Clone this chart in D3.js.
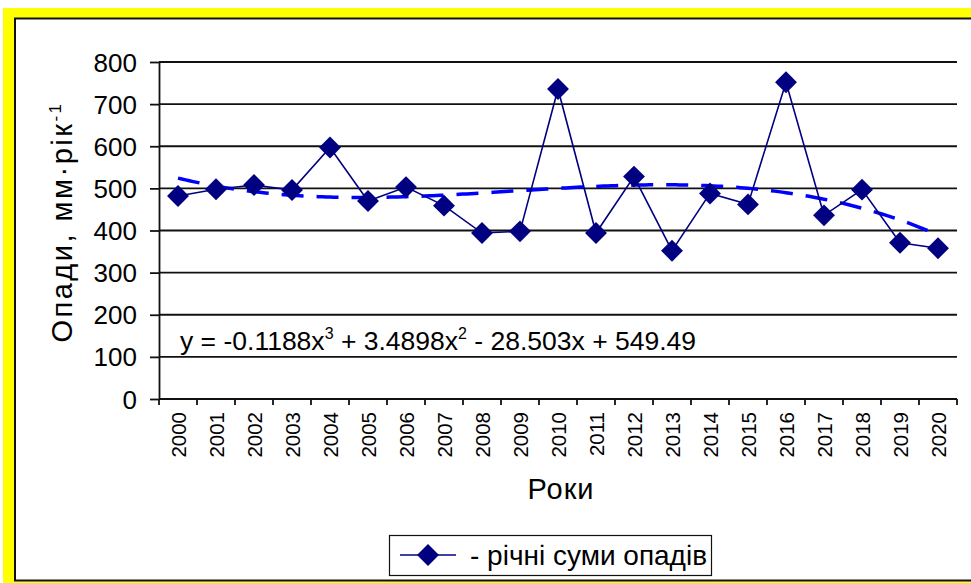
<!DOCTYPE html>
<html>
<head>
<meta charset="utf-8">
<script src="https://cdn.jsdelivr.net/npm/d3@7/dist/d3.min.js"></script>
<style>
  html, body { margin: 0; padding: 0; background: #fff; }
  svg { display: block; font-family: "Liberation Sans", Arial, sans-serif; }
</style>
</head>
<body>
<svg id="chart" width="971" height="583"></svg>
<script>
// Annual precipitation totals, mm per year
const years = ["2000","2001","2002","2003","2004","2005","2006","2007","2008","2009","2010",
               "2011","2012","2013","2014","2015","2016","2017","2018","2019","2020"];
const precipitation = [482, 498, 508, 496, 597, 470, 503, 459, 394, 398, 736,
                       394, 528, 352, 488, 462, 752, 436, 497, 371, 358];
// Cubic trend coefficients (x = 1 … 21): a3, a2, a1, a0
const trendCoefficients = [-0.1188, 3.4898, -28.503, 549.49];
const yTicks = [0, 100, 200, 300, 400, 500, 600, 700, 800];

const svg = d3.select("#chart");

// Yellow frame and white panel
svg.append("rect").attr("x", 3).attr("y", 8).attr("width", 980).attr("height", 590).attr("fill", "#ffff00");
svg.append("rect").attr("x", 15).attr("y", 18.5).attr("width", 980).attr("height", 562)
  .attr("fill", "#fff").attr("stroke", "#111").attr("stroke-width", 2);

const plot = { left: 159, right: 957, top: 62, bottom: 399 };

const x = d3.scaleBand().domain(years).range([plot.left, plot.right]).paddingInner(0).paddingOuter(0);
const y = d3.scaleLinear().domain([0, 800]).range([plot.bottom, plot.top]);
const cx = d => x(d) + x.bandwidth() / 2;

// Horizontal gridlines
svg.append("g").selectAll("line").data(yTicks.filter(v => v > 0)).join("line")
  .attr("x1", plot.left).attr("x2", plot.right)
  .attr("y1", d => y(d)).attr("y2", d => y(d))
  .attr("stroke", "#111").attr("stroke-width", 1.8);

// Y axis
const yAxis = svg.append("g").attr("transform", `translate(${plot.left},0)`)
  .call(d3.axisLeft(y).tickValues(yTicks).tickSize(9).tickPadding(13).tickSizeOuter(0));
yAxis.select(".domain").attr("stroke", "#111").attr("stroke-width", 1.8);
yAxis.selectAll(".tick line").attr("stroke", "#111").attr("stroke-width", 1.8);
yAxis.selectAll("text").attr("font-size", 26).attr("fill", "#000").attr("dy", "0.35em")
  .attr("font-family", "Liberation Sans, Arial, sans-serif");

// X axis with tick marks at category boundaries
const xAxisG = svg.append("g").attr("transform", `translate(0,${plot.bottom})`);
xAxisG.append("line").attr("x1", plot.left).attr("x2", plot.right)
  .attr("stroke", "#111").attr("stroke-width", 1.8);
const boundaries = years.map(d => x(d)).concat([plot.right]);
xAxisG.selectAll("line.tk").data(boundaries).join("line").attr("class", "tk")
  .attr("x1", d => d).attr("x2", d => d).attr("y1", 0).attr("y2", 6)
  .attr("stroke", "#111").attr("stroke-width", 1.8);
xAxisG.selectAll("text").data(years).join("text")
  .attr("transform", d => `translate(${cx(d) + 7.5},13) rotate(-90)`)
  .attr("text-anchor", "end").attr("font-size", 20.5).attr("fill", "#000")
  .text(d => d);

// Trend line from the cubic equation
const trendFn = t => trendCoefficients[0] * t ** 3 + trendCoefficients[1] * t ** 2 +
                     trendCoefficients[2] * t + trendCoefficients[3];
const trendPts = d3.range(1, years.length + 0.001, 0.1).map(t => [t, trendFn(t)]);
const tx = d3.scaleLinear().domain([1, years.length]).range([cx(years[0]), cx(years[years.length - 1])]);
svg.append("path").datum(trendPts)
  .attr("d", d3.line().x(d => tx(d[0])).y(d => y(d[1])))
  .attr("fill", "none").attr("stroke", "#0000ff").attr("stroke-width", 3.5)
  .attr("stroke-dasharray", "22,13");

// Data series
const diamond = d3.symbol().type(d3.symbolSquare).size(240);
svg.append("path").datum(precipitation)
  .attr("d", d3.line().x((d, i) => cx(years[i])).y(d => y(d)))
  .attr("fill", "none").attr("stroke", "#000080").attr("stroke-width", 1.6);
svg.append("g").selectAll("path").data(precipitation).join("path")
  .attr("d", diamond)
  .attr("transform", (d, i) => `translate(${cx(years[i])},${y(d)}) rotate(45)`)
  .attr("fill", "#000080");

// Trend equation
const eq = svg.append("text").attr("x", 180).attr("y", 350).attr("font-size", 26.5).attr("fill", "#000");
eq.append("tspan").text("y = -0.1188x");
eq.append("tspan").attr("dy", -11).attr("font-size", 16).text("3");
eq.append("tspan").attr("dy", 11).text(" + 3.4898x");
eq.append("tspan").attr("dy", -11).attr("font-size", 16).text("2");
eq.append("tspan").attr("dy", 11).text(" - 28.503x + 549.49");

// Axis titles
const yt = svg.append("text").attr("transform", "translate(72,222) rotate(-90)")
  .attr("text-anchor", "middle").attr("font-size", 29).attr("letter-spacing", 2.5).attr("fill", "#000");
yt.append("tspan").text("Опади, мм·рік");
yt.append("tspan").attr("dy", -11).attr("font-size", 17).text("-1");
svg.append("text").attr("x", 561).attr("y", 499).attr("text-anchor", "middle")
  .attr("font-size", 29).attr("letter-spacing", 1).attr("fill", "#000").text("Роки");

// Legend
const lg = svg.append("g");
lg.append("rect").attr("x", 389.5).attr("y", 535.5).attr("width", 322).attr("height", 40)
  .attr("fill", "#fff").attr("stroke", "#111").attr("stroke-width", 1.2);
lg.append("line").attr("x1", 400).attr("x2", 456).attr("y1", 555).attr("y2", 555)
  .attr("stroke", "#000080").attr("stroke-width", 1.6);
lg.append("path").attr("d", diamond).attr("transform", "translate(428,555) rotate(45)").attr("fill", "#000080");
lg.append("text").attr("x", 470).attr("y", 565).attr("font-size", 28).attr("fill", "#000")
  .text("- річні суми опадів");
</script>
</body>
</html>
